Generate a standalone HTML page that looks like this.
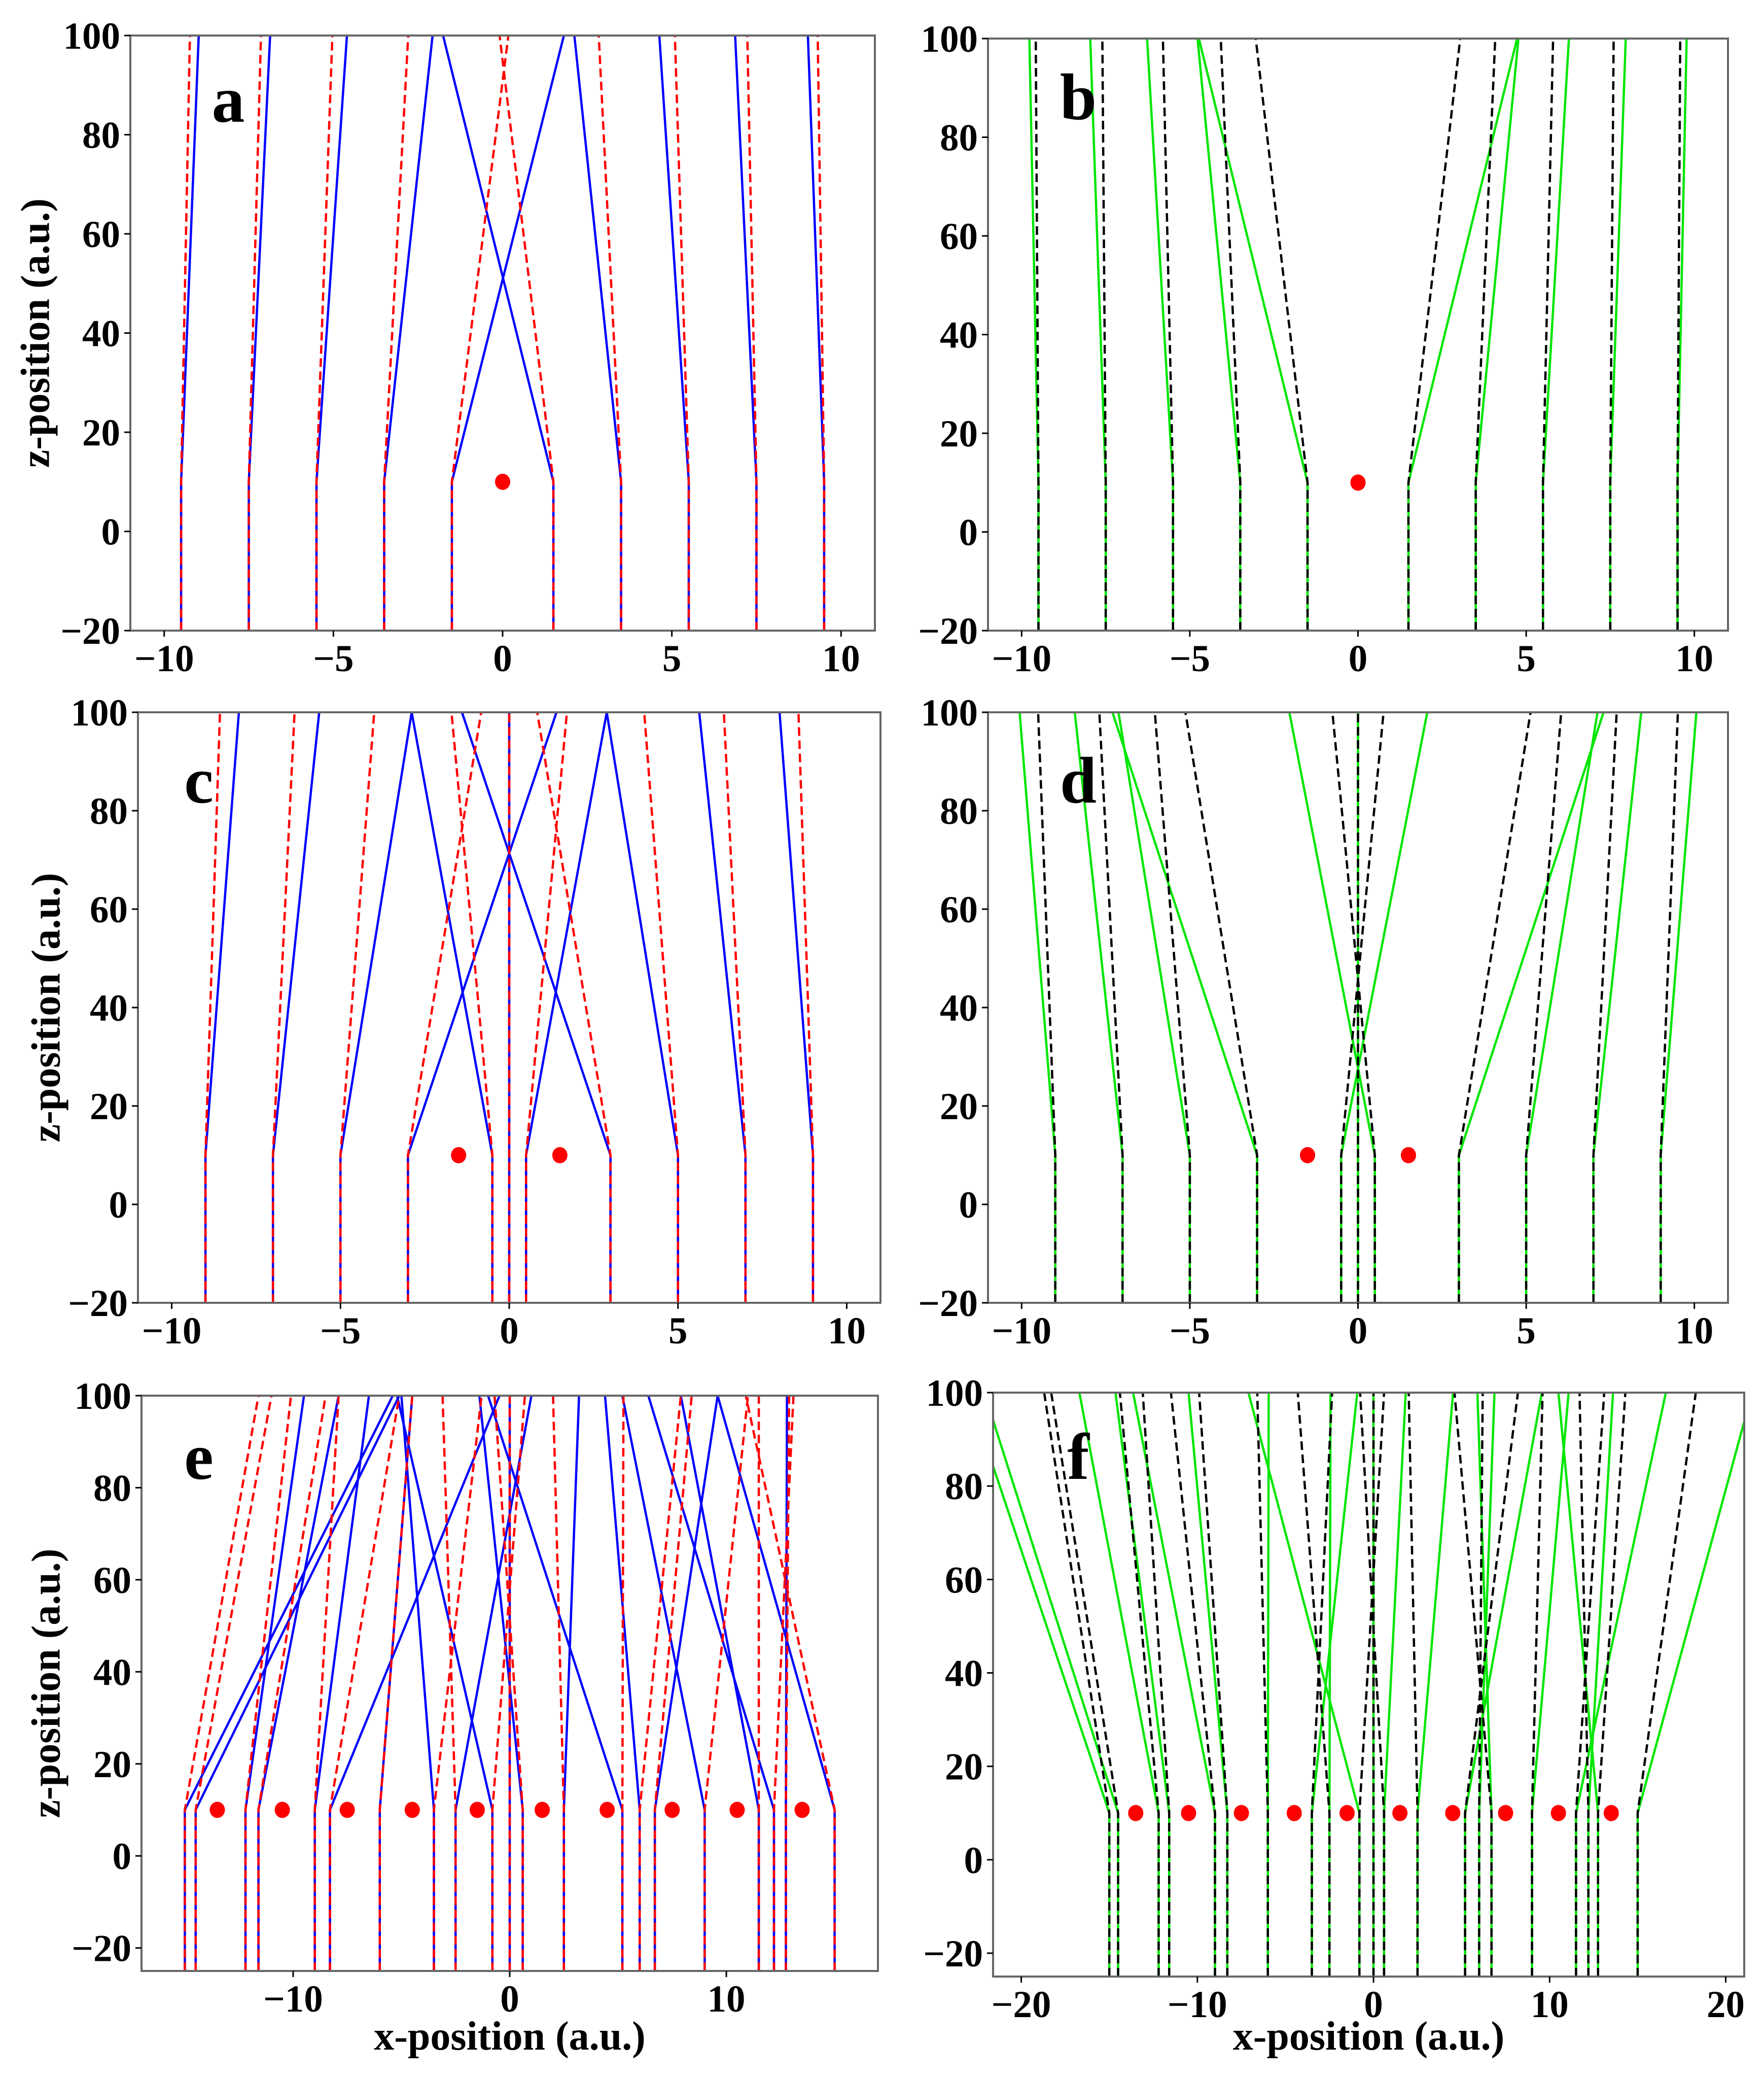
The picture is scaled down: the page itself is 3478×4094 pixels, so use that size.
<!DOCTYPE html>
<html><head><meta charset="utf-8">
<style>
html,body{margin:0;padding:0;background:#fff;}
svg{display:block;}
text{font-family:"Liberation Serif",serif;font-weight:bold;fill:#000;}
</style></head>
<body>
<svg id="fig" xmlns="http://www.w3.org/2000/svg" width="3478" height="4094" viewBox="0 0 3478 4094"></svg>
<script>
// ---- data (x-position at z-min / kink, and at z=100) ----
const aX0 = [-9.5,-7.5,-5.5,-3.5,-1.5,1.5,3.5,5.5,7.5,9.5];
const aBlueTop = [-8.98,-6.87,-4.6,-2.07,1.81,-1.76,2.12,4.63,6.87,9.02];
const aRedTop = [-9.24,-7.14,-5.03,-2.79,0.17,-0.09,2.84,5.09,7.23,9.31];
const aSources = [0];

const bX0 = [-9.5,-7.5,-5.5,-3.5,-1.5,1.5,3.5,5.5,7.5,9.5];
const bGreenTop = [-9.77,-7.96,-6.27,-4.77,-4.73,4.73,4.77,6.27,7.96,9.77];
const bBlackTop = [-9.58,-7.6,-5.8,-4.08,-3.04,3.04,4.08,5.8,7.6,9.58];
const bSources = [0];

const cX0 = [-9,-7,-5,-3,-0.5,0,0.5,3,5,7,9];
const cBlueTop = [-8.01,-5.63,-2.89,1.4,-2.89,0,2.89,-1.4,2.89,5.63,8.01];
const cRedTop = [-8.57,-6.36,-4.0,-0.83,-1.71,0,1.71,0.83,4.0,6.36,8.57];
const cSources = [-1.5,1.5];

const dX0 = [-9,-7,-5,-3,-0.5,0,0.5,3,5,7,9];
const dGreenTop = [-10.06,-8.42,-7.12,-7.3,2.06,0,-2.04,7.3,7.12,8.42,10.06];
const dBlackTop = [-9.51,-7.69,-6.04,-5.13,0.76,0,-0.76,5.13,6.04,7.69,9.51];
const dSources = [-1.5,1.5];

const eX0 = [-15,-14.5,-12.2,-11.6,-9,-8.3,-6,-3.5,-2.5,-0.8,0,0.6,2.5,5.2,6,6.7,9,11.5,12.2,12.75,15];
const eBlueTop = [-5.4,-5.1,-9.5,-7.9,-6.5,-0.47,-4.5,-5.0,1.0,-5.2,0,-1.4,3.2,-1.0,4.4,9.6,5.2,7.9,6.4,12.8,9.6];
const eRedTop = [-11.6,-11.0,-10.1,-8.5,-7.9,-5.1,-4.5,-1.3,-3.1,0.7,0,-0.7,2.0,5.25,7.9,8.4,11.0,11.5,13.1,12.9,10.9];
const eSources = [-13.5,-10.5,-7.5,-4.5,-1.5,1.5,4.5,7.5,10.5,13.5];

const fX0 = [-15,-14.5,-12.2,-11.6,-9,-8.3,-6,-3.5,-2.5,-0.8,0,0.6,2.5,5.2,6,6.7,9,11.5,12.2,12.75,15];
const fGreenTop = [-23.0,-22.1,-16.7,-14.65,-13.65,-10.5,-5.95,-0.92,-2.44,-7.1,0,1.83,4.52,9.56,6.87,5.9,11.08,16.6,13.6,10.5,21.5];
const fBlackTop = [-18.7,-18.3,-14.4,-13.1,-11.5,-9.9,-6.6,-2.35,-4.3,0.6,0,-0.76,2.0,8.2,6.2,4.6,9.6,13.1,11.7,14.3,18.3];
const fSources = [-13.5,-10.5,-7.5,-4.5,-1.5,1.5,4.5,7.5,10.5,13.5];

const kinkZ = 10;
const topZ = 100;

// ---- layout ----
const NS = "http://www.w3.org/2000/svg";
const svg = document.getElementById('fig');
function mk(tag, attrs, parent){
  const el = document.createElementNS(NS, tag);
  for (const k in attrs) el.setAttribute(k, attrs[k]);
  (parent||svg).appendChild(el);
  return el;
}

const panels = [
  {id:'a', box:[257,70,1725,1243], xlim:[-11,11], ylim:[-20,100], xticks:[-10,-5,0,5,10], yticks:[-20,0,20,40,60,80,100],
   x0:aX0, s1:aBlueTop, s2:aRedTop, src:aSources, c1:'#0000ff', c2:'#ff0000', ytitle:78, xtitle:false, lab:[450,240]},
  {id:'b', box:[1948,76,3407,1243], xlim:[-11,11], ylim:[-20,100], xticks:[-10,-5,0,5,10], yticks:[-20,0,20,40,60,80,100],
   x0:bX0, s1:bGreenTop, s2:bBlackTop, src:bSources, c1:'#00e600', c2:'#000000', ytitle:null, xtitle:false, lab:[2126,235]},
  {id:'c', box:[272,1404,1736,2568], xlim:[-11,11], ylim:[-20,100], xticks:[-10,-5,0,5,10], yticks:[-20,0,20,40,60,80,100],
   x0:cX0, s1:cBlueTop, s2:cRedTop, src:cSources, c1:'#0000ff', c2:'#ff0000', ytitle:99, xtitle:false, lab:[392,1582]},
  {id:'d', box:[1948,1404,3407,2568], xlim:[-11,11], ylim:[-20,100], xticks:[-10,-5,0,5,10], yticks:[-20,0,20,40,60,80,100],
   x0:dX0, s1:dGreenTop, s2:dBlackTop, src:dSources, c1:'#00e600', c2:'#000000', ytitle:null, xtitle:false, lab:[2126,1582]},
  {id:'e', box:[279,2751,1731,3885], xlim:[-17,17], ylim:[-25,100], xticks:[-10,0,10], yticks:[-20,0,20,40,60,80,100],
   x0:eX0, s1:eBlueTop, s2:eRedTop, src:eSources, c1:'#0000ff', c2:'#ff0000', ytitle:99, xtitle:true, lab:[392,2915]},
  {id:'f', box:[1958,2745,3439,3896], xlim:[-21.6,21.05], ylim:[-25,100], xticks:[-20,-10,0,10,20], yticks:[-20,0,20,40,60,80,100],
   x0:fX0, s1:fGreenTop, s2:fBlackTop, src:fSources, c1:'#00e600', c2:'#000000', ytitle:null, xtitle:true, lab:[2126,2915]}
];

function fmt(v){ return v<0 ? '\u2212'+Math.abs(v) : String(v); }

panels.forEach(p=>{
  const [L,T,R,B] = p.box;
  const sx = v => L + (v - p.xlim[0])/(p.xlim[1]-p.xlim[0])*(R-L);
  const sy = v => B - (v - p.ylim[0])/(p.ylim[1]-p.ylim[0])*(B-T);
  const g = mk('g', {});
  
  
  const cp = mk('clipPath', {id:'clip-'+p.id}, g);
  mk('rect', {x:L, y:T, width:R-L, height:B-T}, cp);
  const plot = mk('g', {'clip-path':'url(#clip-'+p.id+')'}, g);
  
  

  const zmin = p.ylim[0];
  p.x0.forEach((x0,i)=>{
    const pts = [[sx(x0),sy(zmin)],[sx(x0),sy(kinkZ)],[sx(p.s1[i]),sy(topZ)]];
    const pl = mk('polyline', {points:pts.map(q=>q.join(',')).join(' '), fill:'none', stroke:p.c1, 'stroke-width':4.5}, plot);
    
    
  });
  p.x0.forEach((x0,i)=>{
    const pts = [[sx(x0),sy(zmin)],[sx(x0),sy(kinkZ)],[sx(p.s2[i]),sy(topZ)]];
    const pl = mk('polyline', {points:pts.map(q=>q.join(',')).join(' '), fill:'none', stroke:p.c2, 'stroke-width':4.5, 'stroke-dasharray':'17 9'}, plot);
    
    
  });
  p.src.forEach((x,i)=>{
    const c = mk('ellipse', {cx:sx(x), cy:sy(kinkZ), rx:15, ry:16, fill:'#ff0000'}, plot);
    
    
  });
  const fr = mk('rect', {x:L, y:T, width:R-L, height:B-T, fill:'none', stroke:'#666', 'stroke-width':4}, g);
  
  
  p.xticks.forEach(v=>{
    const x = sx(v);
    mk('line', {x1:x, y1:B, x2:x, y2:B+12, stroke:'#000', 'stroke-width':3}, g);
    const t = mk('text', {x:x, y:B+80, 'font-size':75, 'text-anchor':'middle'}, g);
    t.textContent = fmt(v);
    
    
  });
  p.yticks.forEach(v=>{
    const y = sy(v);
    mk('line', {x1:L-12, y1:y, x2:L, y2:y, stroke:'#000', 'stroke-width':3}, g);
    const t = mk('text', {x:L-20, y:y+26, 'font-size':75, 'text-anchor':'end'}, g);
    t.textContent = fmt(v);
    
    
  });
  const lt = mk('text', {x:p.lab[0], y:p.lab[1], 'font-size':130, 'text-anchor':'middle'}, g);
  lt.textContent = p.id;
  
  
  if (p.ytitle !== null){
    const cy = (T+B)/2;
    const yt = mk('text', {x:p.ytitle, y:cy, 'font-size':80, 'text-anchor':'middle', transform:'rotate(-90 '+p.ytitle+' '+cy+')', 'dominant-baseline':'middle'}, g);
    yt.textContent = 'z-position (a.u.)';
    
    
  }
  if (p.xtitle){
    const xt = mk('text', {x:(L+R)/2, y:4040, 'font-size':80, 'text-anchor':'middle'}, g);
    xt.textContent = 'x-position (a.u.)';
    
    
  }
});
</script>
</body></html>
